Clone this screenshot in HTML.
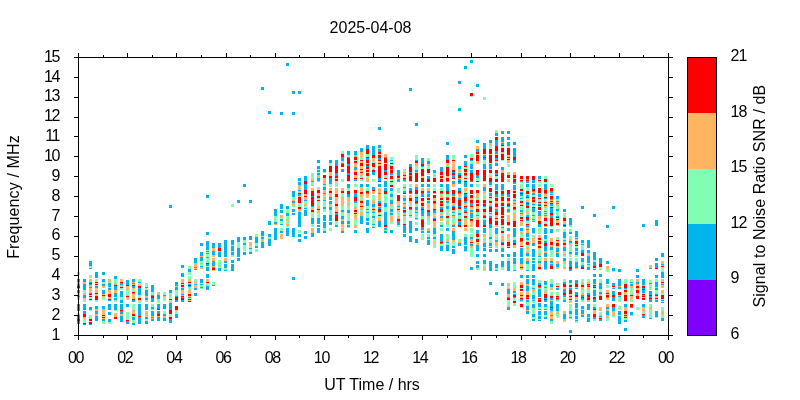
<!DOCTYPE html>
<html><head><meta charset="utf-8"><title>2025-04-08</title>
<style>html,body{margin:0;padding:0;background:#fff}svg{display:block}text{font-family:"Liberation Sans",sans-serif;font-size:16px;fill:#000}.t{letter-spacing:-1.3px}.r{letter-spacing:0.12px}.r2{letter-spacing:0.07px}.c{letter-spacing:-0.7px}</style></head><body>
<svg width="800" height="400" viewBox="0 0 800 400">
<rect width="800" height="400" fill="#fff"/>
<g shape-rendering="crispEdges">
<path fill="#00b4ec" d="M77 279h3v3h-3zM77 284h3v2h-3zM77 290h3v3h-3zM77 296h3v1h-3zM77 304h3v7h-3zM77 315h3v4h-3zM77 321h3v3h-3zM83 279h3v3h-3zM83 284h3v6h-3zM83 295h3v3h-3zM83 304h3v6h-3zM83 311h3v3h-3zM83 324h3v1h-3zM89 261h3v5h-3zM89 268h3v1h-3zM89 282h3v1h-3zM89 284h3v1h-3zM89 287h3v1h-3zM89 293h3v1h-3zM89 307h3v3h-3zM89 324h3v1h-3zM95 272h3v6h-3zM95 286h3v2h-3zM95 306h3v3h-3zM95 311h3v3h-3zM95 316h3v5h-3zM102 272h3v3h-3zM102 279h3v3h-3zM102 284h3v2h-3zM102 290h3v4h-3zM102 306h3v3h-3zM102 319h3v2h-3zM108 283h3v4h-3zM108 288h3v2h-3zM108 300h3v1h-3zM108 304h3v6h-3zM108 312h3v3h-3zM108 319h3v3h-3zM114 276h3v3h-3zM114 286h3v4h-3zM114 293h3v4h-3zM114 298h3v2h-3zM114 304h3v6h-3zM120 283h3v2h-3zM120 291h3v6h-3zM120 300h3v3h-3zM120 304h3v6h-3zM120 311h3v3h-3zM120 316h3v6h-3zM126 280h3v5h-3zM126 304h3v3h-3zM126 321h3v3h-3zM132 279h3v3h-3zM132 283h3v1h-3zM132 286h3v2h-3zM132 293h3v1h-3zM132 300h3v2h-3zM132 317h3v3h-3zM132 323h3v2h-3zM138 282h3v1h-3zM138 288h3v7h-3zM138 304h3v12h-3zM138 317h3v7h-3zM145 287h3v1h-3zM145 290h3v6h-3zM145 298h3v2h-3zM145 304h3v6h-3zM145 317h3v2h-3zM145 321h3v3h-3zM151 285h3v7h-3zM151 295h3v1h-3zM151 298h3v4h-3zM151 307h3v2h-3zM151 311h3v5h-3zM151 317h3v1h-3zM151 319h3v2h-3zM157 295h3v4h-3zM157 304h3v5h-3zM157 311h3v3h-3zM157 317h3v4h-3zM163 295h3v1h-3zM163 304h3v5h-3zM163 314h3v2h-3zM163 318h3v3h-3zM169 205h3v3h-3zM169 290h3v3h-3zM169 303h3v7h-3zM169 319h3v4h-3zM175 282h3v4h-3zM175 287h3v3h-3zM175 296h3v1h-3zM175 300h3v2h-3zM175 314h3v4h-3zM181 265h3v3h-3zM181 273h3v4h-3zM181 288h3v2h-3zM181 294h3v1h-3zM181 297h3v1h-3zM181 300h3v2h-3zM188 269h3v3h-3zM188 284h3v1h-3zM188 286h3v1h-3zM188 297h3v1h-3zM194 258h3v5h-3zM194 267h3v1h-3zM194 269h3v1h-3zM194 284h3v1h-3zM194 288h3v2h-3zM194 293h3v3h-3zM200 243h3v3h-3zM200 252h3v4h-3zM200 257h3v4h-3zM200 266h3v1h-3zM200 279h3v4h-3zM200 284h3v1h-3zM200 287h3v1h-3zM206 195h3v3h-3zM206 232h3v3h-3zM206 241h3v9h-3zM206 251h3v1h-3zM206 253h3v1h-3zM206 257h3v1h-3zM206 264h3v2h-3zM206 267h3v4h-3zM206 274h3v4h-3zM206 286h3v4h-3zM212 243h3v5h-3zM212 251h3v4h-3zM212 261h3v5h-3zM212 267h3v1h-3zM212 285h3v1h-3zM218 243h3v5h-3zM218 252h3v5h-3zM218 268h3v3h-3zM224 240h3v17h-3zM224 261h3v2h-3zM224 264h3v4h-3zM224 270h3v1h-3zM231 240h3v5h-3zM231 246h3v5h-3zM231 252h3v3h-3zM231 260h3v3h-3zM231 264h3v7h-3zM237 200h3v3h-3zM237 237h3v5h-3zM237 248h3v9h-3zM237 258h3v3h-3zM243 184h3v3h-3zM243 237h3v3h-3zM243 243h3v2h-3zM243 252h3v3h-3zM249 200h3v3h-3zM249 236h3v4h-3zM249 248h3v1h-3zM249 252h3v2h-3zM255 237h3v6h-3zM255 246h3v2h-3zM261 87h3v3h-3zM261 231h3v5h-3zM261 237h3v2h-3zM261 242h3v6h-3zM268 111h3v3h-3zM268 221h3v4h-3zM268 234h3v3h-3zM268 239h3v7h-3zM274 209h3v7h-3zM274 222h3v2h-3zM274 228h3v12h-3zM280 112h3v3h-3zM280 204h3v5h-3zM280 210h3v3h-3zM280 219h3v2h-3zM280 224h3v1h-3zM280 231h3v2h-3zM286 63h3v3h-3zM286 206h3v3h-3zM286 213h3v3h-3zM286 228h3v8h-3zM292 91h3v3h-3zM292 112h3v3h-3zM292 191h3v6h-3zM292 201h3v2h-3zM292 209h3v3h-3zM292 213h3v2h-3zM292 228h3v9h-3zM292 277h3v3h-3zM298 91h3v3h-3zM298 178h3v3h-3zM298 182h3v3h-3zM298 190h3v1h-3zM298 194h3v2h-3zM298 212h3v15h-3zM298 234h3v3h-3zM298 239h3v3h-3zM304 176h3v5h-3zM304 184h3v6h-3zM304 200h3v1h-3zM304 208h3v1h-3zM304 210h3v6h-3zM304 231h3v3h-3zM304 236h3v3h-3zM311 181h3v1h-3zM311 196h3v1h-3zM311 206h3v1h-3zM311 218h3v6h-3zM311 233h3v4h-3zM317 160h3v3h-3zM317 166h3v3h-3zM317 170h3v2h-3zM317 173h3v2h-3zM317 178h3v3h-3zM317 218h3v6h-3zM317 225h3v2h-3zM317 228h3v5h-3zM323 169h3v3h-3zM323 184h3v1h-3zM323 187h3v3h-3zM323 193h3v1h-3zM323 200h3v1h-3zM323 207h3v2h-3zM323 215h3v6h-3zM323 222h3v6h-3zM323 231h3v2h-3zM329 160h3v3h-3zM329 178h3v6h-3zM329 197h3v3h-3zM329 201h3v3h-3zM329 207h3v3h-3zM329 215h3v6h-3zM329 222h3v3h-3zM335 160h3v6h-3zM335 173h3v3h-3zM335 213h3v2h-3zM335 225h3v2h-3zM341 157h3v4h-3zM341 163h3v1h-3zM341 169h3v3h-3zM341 210h3v2h-3zM341 216h3v3h-3zM341 221h3v3h-3zM341 231h3v2h-3zM347 151h3v4h-3zM347 157h3v1h-3zM347 164h3v2h-3zM347 173h3v2h-3zM347 184h3v4h-3zM347 194h3v3h-3zM347 210h3v3h-3zM347 221h3v3h-3zM347 225h3v2h-3zM354 151h3v4h-3zM354 167h3v3h-3zM354 179h3v2h-3zM354 193h3v4h-3zM354 201h3v2h-3zM354 230h3v3h-3zM360 148h3v4h-3zM360 184h3v3h-3zM360 216h3v8h-3zM366 145h3v4h-3zM366 158h3v2h-3zM366 166h3v1h-3zM366 184h3v3h-3zM366 193h3v1h-3zM366 200h3v6h-3zM366 209h3v1h-3zM366 212h3v1h-3zM366 218h3v3h-3zM366 222h3v3h-3zM366 228h3v5h-3zM372 146h3v9h-3zM372 172h3v3h-3zM372 187h3v3h-3zM372 204h3v3h-3zM372 212h3v1h-3zM372 216h3v2h-3zM372 224h3v1h-3zM372 227h3v1h-3zM378 127h3v3h-3zM378 145h3v3h-3zM378 149h3v3h-3zM378 158h3v2h-3zM378 178h3v3h-3zM378 184h3v3h-3zM378 193h3v1h-3zM378 201h3v2h-3zM378 207h3v2h-3zM378 221h3v6h-3zM384 157h3v1h-3zM384 170h3v2h-3zM384 181h3v6h-3zM384 188h3v3h-3zM384 203h3v4h-3zM384 212h3v13h-3zM384 228h3v2h-3zM384 231h3v2h-3zM390 160h3v1h-3zM390 169h3v1h-3zM390 173h3v2h-3zM390 188h3v3h-3zM390 194h3v3h-3zM390 200h3v4h-3zM390 209h3v3h-3zM390 213h3v2h-3zM390 230h3v3h-3zM397 170h3v6h-3zM397 179h3v3h-3zM397 206h3v1h-3zM397 221h3v4h-3zM403 179h3v2h-3zM403 187h3v1h-3zM403 191h3v2h-3zM403 198h3v3h-3zM403 203h3v1h-3zM403 207h3v2h-3zM403 212h3v1h-3zM403 215h3v1h-3zM403 225h3v8h-3zM403 234h3v3h-3zM409 88h3v3h-3zM409 164h3v3h-3zM409 172h3v1h-3zM409 175h3v1h-3zM409 188h3v3h-3zM409 193h3v1h-3zM409 209h3v1h-3zM409 215h3v1h-3zM409 221h3v12h-3zM409 236h3v6h-3zM415 123h3v3h-3zM415 160h3v1h-3zM415 170h3v2h-3zM415 187h3v3h-3zM415 198h3v3h-3zM415 203h3v1h-3zM415 207h3v3h-3zM415 212h3v1h-3zM415 218h3v1h-3zM415 228h3v3h-3zM415 239h3v4h-3zM421 158h3v6h-3zM421 166h3v1h-3zM421 184h3v3h-3zM421 193h3v4h-3zM421 207h3v2h-3zM421 210h3v6h-3zM421 219h3v1h-3zM421 227h3v3h-3zM421 231h3v2h-3zM427 161h3v3h-3zM427 176h3v3h-3zM427 184h3v3h-3zM427 191h3v2h-3zM427 194h3v3h-3zM427 201h3v2h-3zM427 212h3v4h-3zM427 231h3v2h-3zM427 237h3v2h-3zM427 240h3v5h-3zM433 170h3v3h-3zM433 203h3v1h-3zM433 210h3v3h-3zM433 218h3v1h-3zM433 228h3v6h-3zM433 237h3v2h-3zM440 167h3v5h-3zM440 184h3v3h-3zM440 193h3v1h-3zM440 203h3v1h-3zM440 207h3v2h-3zM440 216h3v2h-3zM440 225h3v2h-3zM440 234h3v8h-3zM440 243h3v1h-3zM440 246h3v5h-3zM446 142h3v3h-3zM446 155h3v5h-3zM446 181h3v1h-3zM446 184h3v7h-3zM446 197h3v1h-3zM446 201h3v2h-3zM446 206h3v3h-3zM446 228h3v3h-3zM446 242h3v1h-3zM446 245h3v6h-3zM452 172h3v1h-3zM452 175h3v3h-3zM452 181h3v3h-3zM452 194h3v2h-3zM452 206h3v1h-3zM452 212h3v1h-3zM452 215h3v1h-3zM452 225h3v2h-3zM452 231h3v9h-3zM452 246h3v2h-3zM452 249h3v5h-3zM458 81h3v3h-3zM458 108h3v3h-3zM458 166h3v3h-3zM458 173h3v2h-3zM458 179h3v2h-3zM458 182h3v2h-3zM458 188h3v3h-3zM458 193h3v1h-3zM458 198h3v2h-3zM458 206h3v1h-3zM458 213h3v2h-3zM458 221h3v4h-3zM458 243h3v3h-3zM464 66h3v3h-3zM464 155h3v3h-3zM464 161h3v5h-3zM464 175h3v1h-3zM464 182h3v5h-3zM464 194h3v3h-3zM464 201h3v2h-3zM464 207h3v2h-3zM464 210h3v2h-3zM464 237h3v8h-3zM464 246h3v5h-3zM470 60h3v3h-3zM470 160h3v1h-3zM470 164h3v5h-3zM470 170h3v3h-3zM470 181h3v1h-3zM470 184h3v3h-3zM470 203h3v3h-3zM470 210h3v2h-3zM470 213h3v5h-3zM470 237h3v2h-3zM470 244h3v2h-3zM470 267h3v3h-3zM476 84h3v3h-3zM476 140h3v3h-3zM476 149h3v3h-3zM476 175h3v3h-3zM476 215h3v1h-3zM476 230h3v4h-3zM476 245h3v6h-3zM476 254h3v3h-3zM476 261h3v3h-3zM476 265h3v3h-3zM483 143h3v6h-3zM483 155h3v2h-3zM483 158h3v2h-3zM483 164h3v5h-3zM483 187h3v4h-3zM483 203h3v1h-3zM483 206h3v1h-3zM483 215h3v1h-3zM483 220h3v5h-3zM483 228h3v5h-3zM483 243h3v4h-3zM483 248h3v3h-3zM483 254h3v3h-3zM483 260h3v4h-3zM489 140h3v3h-3zM489 164h3v5h-3zM489 182h3v3h-3zM489 193h3v3h-3zM489 206h3v1h-3zM489 213h3v1h-3zM489 216h3v2h-3zM489 224h3v4h-3zM489 237h3v2h-3zM489 243h3v3h-3zM489 247h3v1h-3zM489 249h3v3h-3zM489 261h3v10h-3zM489 282h3v3h-3zM495 133h3v3h-3zM495 140h3v6h-3zM495 151h3v3h-3zM495 158h3v2h-3zM495 163h3v3h-3zM495 173h3v2h-3zM495 184h3v6h-3zM495 194h3v3h-3zM495 203h3v1h-3zM495 209h3v3h-3zM495 228h3v6h-3zM495 240h3v2h-3zM495 249h3v3h-3zM495 264h3v4h-3zM495 270h3v1h-3zM495 292h3v3h-3zM501 131h3v3h-3zM501 137h3v5h-3zM501 143h3v2h-3zM501 167h3v3h-3zM501 184h3v6h-3zM501 194h3v2h-3zM501 227h3v1h-3zM501 242h3v1h-3zM501 248h3v4h-3zM501 254h3v3h-3zM501 261h3v6h-3zM501 283h3v3h-3zM507 131h3v3h-3zM507 137h3v3h-3zM507 142h3v4h-3zM507 194h3v3h-3zM507 203h3v1h-3zM507 206h3v1h-3zM507 209h3v3h-3zM507 228h3v3h-3zM507 254h3v3h-3zM507 261h3v10h-3zM507 289h3v5h-3zM507 297h3v1h-3zM507 307h3v3h-3zM513 142h3v3h-3zM513 148h3v9h-3zM513 160h3v3h-3zM513 182h3v2h-3zM513 185h3v5h-3zM513 200h3v1h-3zM513 203h3v1h-3zM513 209h3v1h-3zM513 228h3v9h-3zM513 240h3v3h-3zM513 252h3v5h-3zM513 258h3v6h-3zM513 270h3v1h-3zM513 291h3v2h-3zM513 294h3v1h-3zM513 297h3v1h-3zM520 181h3v1h-3zM520 192h3v1h-3zM520 194h3v2h-3zM520 198h3v1h-3zM520 210h3v2h-3zM520 213h3v1h-3zM520 228h3v3h-3zM520 241h3v1h-3zM520 248h3v9h-3zM520 258h3v6h-3zM520 275h3v3h-3zM520 299h3v2h-3zM526 179h3v1h-3zM526 181h3v2h-3zM526 184h3v3h-3zM526 195h3v2h-3zM526 202h3v1h-3zM526 204h3v2h-3zM526 215h3v2h-3zM526 220h3v1h-3zM526 225h3v2h-3zM526 229h3v1h-3zM526 233h3v4h-3zM526 238h3v2h-3zM526 253h3v3h-3zM526 261h3v3h-3zM526 270h3v1h-3zM526 275h3v3h-3zM526 279h3v5h-3zM526 286h3v5h-3zM526 297h3v1h-3zM526 300h3v2h-3zM526 306h3v4h-3zM526 311h3v3h-3zM532 180h3v3h-3zM532 184h3v5h-3zM532 191h3v1h-3zM532 193h3v2h-3zM532 199h3v1h-3zM532 204h3v1h-3zM532 208h3v4h-3zM532 215h3v1h-3zM532 219h3v1h-3zM532 221h3v1h-3zM532 228h3v5h-3zM532 243h3v3h-3zM532 249h3v8h-3zM532 258h3v2h-3zM532 261h3v2h-3zM532 264h3v7h-3zM532 275h3v3h-3zM532 279h3v6h-3zM532 288h3v1h-3zM532 295h3v4h-3zM532 300h3v1h-3zM532 304h3v4h-3zM532 314h3v3h-3zM532 319h3v2h-3zM538 176h3v3h-3zM538 194h3v3h-3zM538 204h3v1h-3zM538 211h3v5h-3zM538 224h3v3h-3zM538 256h3v1h-3zM538 261h3v2h-3zM538 283h3v2h-3zM538 287h3v1h-3zM538 289h3v8h-3zM538 299h3v1h-3zM538 303h3v4h-3zM538 309h3v1h-3zM538 311h3v4h-3zM538 316h3v3h-3zM538 320h3v1h-3zM544 184h3v6h-3zM544 193h3v1h-3zM544 198h3v1h-3zM544 211h3v1h-3zM544 213h3v1h-3zM544 215h3v1h-3zM544 228h3v6h-3zM544 235h3v4h-3zM544 241h3v2h-3zM544 246h3v5h-3zM544 253h3v4h-3zM544 261h3v8h-3zM544 281h3v4h-3zM544 287h3v1h-3zM544 298h3v1h-3zM544 300h3v2h-3zM544 304h3v3h-3zM544 309h3v1h-3zM544 311h3v4h-3zM544 317h3v2h-3zM550 191h3v2h-3zM550 194h3v1h-3zM550 199h3v1h-3zM550 204h3v2h-3zM550 208h3v5h-3zM550 215h3v3h-3zM550 229h3v4h-3zM550 247h3v3h-3zM550 261h3v2h-3zM550 264h3v2h-3zM550 284h3v3h-3zM550 298h3v2h-3zM550 301h3v6h-3zM550 308h3v3h-3zM550 315h3v1h-3zM550 319h3v2h-3zM556 196h3v3h-3zM556 201h3v1h-3zM556 203h3v1h-3zM556 209h3v2h-3zM556 216h3v1h-3zM556 248h3v4h-3zM556 253h3v4h-3zM556 264h3v3h-3zM556 288h3v2h-3zM556 297h3v1h-3zM556 299h3v1h-3zM556 304h3v7h-3zM563 209h3v3h-3zM563 224h3v1h-3zM563 226h3v1h-3zM563 232h3v6h-3zM563 240h3v1h-3zM563 247h3v4h-3zM563 258h3v3h-3zM563 282h3v2h-3zM563 289h3v4h-3zM563 295h3v2h-3zM563 300h3v2h-3zM563 314h3v5h-3zM569 218h3v7h-3zM569 232h3v2h-3zM569 241h3v2h-3zM569 252h3v2h-3zM569 261h3v6h-3zM569 269h3v2h-3zM569 280h3v3h-3zM569 288h3v2h-3zM569 311h3v3h-3zM569 317h3v1h-3zM569 330h3v3h-3zM575 231h3v6h-3zM575 238h3v1h-3zM575 248h3v3h-3zM575 252h3v3h-3zM575 262h3v6h-3zM575 280h3v4h-3zM575 288h3v1h-3zM575 292h3v3h-3zM575 300h3v2h-3zM575 303h3v5h-3zM575 309h3v6h-3zM575 316h3v3h-3zM575 320h3v1h-3zM581 206h3v3h-3zM581 240h3v3h-3zM581 244h3v1h-3zM581 250h3v3h-3zM581 258h3v4h-3zM581 265h3v2h-3zM581 295h3v2h-3zM581 298h3v2h-3zM581 306h3v3h-3zM581 310h3v4h-3zM581 315h3v2h-3zM587 240h3v8h-3zM587 250h3v3h-3zM587 256h3v7h-3zM587 264h3v1h-3zM587 267h3v3h-3zM587 285h3v1h-3zM587 293h3v2h-3zM587 297h3v1h-3zM587 304h3v6h-3zM587 314h3v3h-3zM587 318h3v4h-3zM593 214h3v3h-3zM593 252h3v8h-3zM593 262h3v4h-3zM593 269h3v1h-3zM593 274h3v3h-3zM593 279h3v5h-3zM593 286h3v1h-3zM593 290h3v6h-3zM593 299h3v3h-3zM593 307h3v2h-3zM593 317h3v2h-3zM599 258h3v6h-3zM599 274h3v3h-3zM599 283h3v6h-3zM599 292h3v2h-3zM599 316h3v1h-3zM599 319h3v2h-3zM606 225h3v3h-3zM606 261h3v3h-3zM606 279h3v5h-3zM606 297h3v1h-3zM606 307h3v2h-3zM606 311h3v4h-3zM612 206h3v3h-3zM612 268h3v3h-3zM612 283h3v3h-3zM612 288h3v1h-3zM612 291h3v4h-3zM612 297h3v4h-3zM612 307h3v4h-3zM618 269h3v3h-3zM618 279h3v7h-3zM618 287h3v2h-3zM618 296h3v1h-3zM618 311h3v4h-3zM618 316h3v8h-3zM624 288h3v1h-3zM624 304h3v3h-3zM624 320h3v2h-3zM624 328h3v3h-3zM630 282h3v1h-3zM630 284h3v2h-3zM630 307h3v1h-3zM630 312h3v3h-3zM636 269h3v3h-3zM636 275h3v3h-3zM636 282h3v2h-3zM642 224h3v3h-3zM642 279h3v6h-3zM642 288h3v1h-3zM642 290h3v3h-3zM642 295h3v1h-3zM642 304h3v3h-3zM642 315h3v3h-3zM649 268h3v1h-3zM649 283h3v1h-3zM649 291h3v4h-3zM649 296h3v2h-3zM649 299h3v3h-3zM649 318h3v1h-3zM655 220h3v6h-3zM655 258h3v3h-3zM655 263h3v5h-3zM655 275h3v3h-3zM655 282h3v5h-3zM655 288h3v2h-3zM655 294h3v1h-3zM655 300h3v2h-3zM655 311h3v6h-3zM661 253h3v4h-3zM661 264h3v1h-3zM661 272h3v6h-3zM661 284h3v1h-3zM661 300h3v1h-3zM661 302h3v1h-3zM661 318h3v3h-3z"/>
<path fill="#80ffb4" d="M77 272h3v3h-3zM77 293h3v2h-3zM77 297h3v3h-3zM77 313h3v2h-3zM83 290h3v3h-3zM83 299h3v3h-3zM83 319h3v4h-3zM89 266h3v2h-3zM89 275h3v3h-3zM89 297h3v2h-3zM89 300h3v1h-3zM89 310h3v1h-3zM89 315h3v4h-3zM89 321h3v1h-3zM95 279h3v3h-3zM95 289h3v1h-3zM95 300h3v2h-3zM102 282h3v2h-3zM102 297h3v3h-3zM102 321h3v3h-3zM108 282h3v1h-3zM108 287h3v1h-3zM108 293h3v1h-3zM108 322h3v2h-3zM114 279h3v4h-3zM114 297h3v1h-3zM114 300h3v2h-3zM114 310h3v1h-3zM120 288h3v2h-3zM120 297h3v3h-3zM126 290h3v5h-3zM126 299h3v1h-3zM126 312h3v8h-3zM132 289h3v3h-3zM132 304h3v6h-3zM132 316h3v1h-3zM132 320h3v3h-3zM138 279h3v3h-3zM138 283h3v1h-3zM138 295h3v3h-3zM138 301h3v2h-3zM145 283h3v4h-3zM145 288h3v2h-3zM145 300h3v2h-3zM145 319h3v2h-3zM151 292h3v3h-3zM151 304h3v3h-3zM157 299h3v4h-3zM163 292h3v3h-3zM163 297h3v4h-3zM163 311h3v3h-3zM169 293h3v2h-3zM169 296h3v3h-3zM169 300h3v2h-3zM169 314h3v3h-3zM175 286h3v1h-3zM175 290h3v5h-3zM175 311h3v3h-3zM181 284h3v1h-3zM181 287h3v1h-3zM188 266h3v3h-3zM188 272h3v3h-3zM188 276h3v3h-3zM188 288h3v2h-3zM188 293h3v1h-3zM188 298h3v1h-3zM194 279h3v3h-3zM194 283h3v1h-3zM194 285h3v1h-3zM200 261h3v2h-3zM200 264h3v2h-3zM200 283h3v1h-3zM200 285h3v2h-3zM200 288h3v1h-3zM206 250h3v1h-3zM206 252h3v1h-3zM206 254h3v3h-3zM206 258h3v3h-3zM206 262h3v1h-3zM206 266h3v1h-3zM206 283h3v2h-3zM212 282h3v3h-3zM218 260h3v3h-3zM218 264h3v1h-3zM218 266h3v2h-3zM224 268h3v2h-3zM231 204h3v3h-3zM231 245h3v1h-3zM231 251h3v1h-3zM231 255h3v2h-3zM237 242h3v6h-3zM243 240h3v3h-3zM243 245h3v6h-3zM249 246h3v2h-3zM249 249h3v3h-3zM255 234h3v3h-3zM255 243h3v3h-3zM255 249h3v3h-3zM261 236h3v1h-3zM268 237h3v2h-3zM274 216h3v6h-3zM280 218h3v1h-3zM280 221h3v3h-3zM280 228h3v3h-3zM286 209h3v4h-3zM286 216h3v3h-3zM286 221h3v3h-3zM286 226h3v1h-3zM292 197h3v3h-3zM292 206h3v1h-3zM298 181h3v1h-3zM298 203h3v4h-3zM298 230h3v3h-3zM304 201h3v3h-3zM304 206h3v2h-3zM304 209h3v1h-3zM311 173h3v6h-3zM311 182h3v3h-3zM311 212h3v6h-3zM311 224h3v3h-3zM317 169h3v1h-3zM317 172h3v1h-3zM317 187h3v3h-3zM317 198h3v2h-3zM317 201h3v5h-3zM317 213h3v5h-3zM323 172h3v1h-3zM323 185h3v2h-3zM323 196h3v1h-3zM323 201h3v6h-3zM323 209h3v3h-3zM323 228h3v3h-3zM329 163h3v3h-3zM329 184h3v3h-3zM329 206h3v1h-3zM329 210h3v5h-3zM329 228h3v3h-3zM335 181h3v6h-3zM335 193h3v1h-3zM335 197h3v1h-3zM335 201h3v1h-3zM335 209h3v1h-3zM335 221h3v4h-3zM341 151h3v3h-3zM341 161h3v2h-3zM341 179h3v3h-3zM341 193h3v4h-3zM341 206h3v4h-3zM341 212h3v4h-3zM341 227h3v1h-3zM347 155h3v2h-3zM347 181h3v1h-3zM347 188h3v3h-3zM347 202h3v1h-3zM347 206h3v4h-3zM347 213h3v8h-3zM347 224h3v1h-3zM354 160h3v1h-3zM354 184h3v3h-3zM354 203h3v4h-3zM354 219h3v6h-3zM354 227h3v1h-3zM360 155h3v1h-3zM360 157h3v3h-3zM360 176h3v2h-3zM360 179h3v2h-3zM360 197h3v3h-3zM360 210h3v2h-3zM366 154h3v3h-3zM366 176h3v2h-3zM366 188h3v3h-3zM366 197h3v1h-3zM366 206h3v3h-3zM366 210h3v2h-3zM366 213h3v5h-3zM372 161h3v2h-3zM372 167h3v2h-3zM372 179h3v3h-3zM372 195h3v5h-3zM372 213h3v3h-3zM372 218h3v6h-3zM372 225h3v2h-3zM378 148h3v1h-3zM378 200h3v1h-3zM378 213h3v2h-3zM378 216h3v2h-3zM384 163h3v1h-3zM384 175h3v3h-3zM384 194h3v3h-3zM384 198h3v5h-3zM384 207h3v5h-3zM384 227h3v1h-3zM384 230h3v1h-3zM390 157h3v3h-3zM390 161h3v2h-3zM390 164h3v2h-3zM390 179h3v2h-3zM390 182h3v3h-3zM390 191h3v2h-3zM390 197h3v3h-3zM390 206h3v3h-3zM390 212h3v1h-3zM390 215h3v1h-3zM390 221h3v3h-3zM397 188h3v5h-3zM397 203h3v1h-3zM397 212h3v4h-3zM397 225h3v2h-3zM403 169h3v3h-3zM403 184h3v3h-3zM403 188h3v3h-3zM403 201h3v2h-3zM403 209h3v1h-3zM403 216h3v2h-3zM403 219h3v5h-3zM409 184h3v3h-3zM409 203h3v4h-3zM409 210h3v5h-3zM409 216h3v2h-3zM415 155h3v5h-3zM415 166h3v4h-3zM415 194h3v3h-3zM415 204h3v3h-3zM415 213h3v2h-3zM415 216h3v2h-3zM415 219h3v1h-3zM415 222h3v3h-3zM421 167h3v2h-3zM421 216h3v3h-3zM421 230h3v1h-3zM421 234h3v6h-3zM427 158h3v3h-3zM427 166h3v3h-3zM427 173h3v2h-3zM427 197h3v1h-3zM427 200h3v1h-3zM427 209h3v1h-3zM427 218h3v1h-3zM427 220h3v5h-3zM427 234h3v3h-3zM427 239h3v1h-3zM433 173h3v2h-3zM433 176h3v2h-3zM433 184h3v3h-3zM433 188h3v3h-3zM433 215h3v1h-3zM433 234h3v3h-3zM433 239h3v3h-3zM433 243h3v5h-3zM440 188h3v3h-3zM440 194h3v1h-3zM440 197h3v1h-3zM440 200h3v1h-3zM440 212h3v1h-3zM440 215h3v1h-3zM440 222h3v3h-3zM440 228h3v3h-3zM440 244h3v2h-3zM446 163h3v1h-3zM446 166h3v1h-3zM446 194h3v3h-3zM446 204h3v2h-3zM446 209h3v7h-3zM446 218h3v3h-3zM446 224h3v3h-3zM446 234h3v5h-3zM446 243h3v2h-3zM452 155h3v5h-3zM452 163h3v1h-3zM452 203h3v1h-3zM452 213h3v2h-3zM452 218h3v6h-3zM452 242h3v4h-3zM458 172h3v1h-3zM458 197h3v1h-3zM458 210h3v3h-3zM458 215h3v4h-3zM458 239h3v3h-3zM464 167h3v2h-3zM464 176h3v2h-3zM464 179h3v2h-3zM464 191h3v2h-3zM464 213h3v3h-3zM464 218h3v1h-3zM464 234h3v3h-3zM464 251h3v1h-3zM470 96h3v1h-3zM470 154h3v4h-3zM470 161h3v3h-3zM470 209h3v1h-3zM470 218h3v1h-3zM470 228h3v5h-3zM470 234h3v3h-3zM470 248h3v9h-3zM476 163h3v1h-3zM476 178h3v3h-3zM476 184h3v3h-3zM476 198h3v2h-3zM476 203h3v1h-3zM476 212h3v3h-3zM476 216h3v2h-3zM476 237h3v2h-3zM476 268h3v2h-3zM483 97h3v3h-3zM483 160h3v4h-3zM483 181h3v1h-3zM483 193h3v4h-3zM483 198h3v2h-3zM483 207h3v2h-3zM483 218h3v2h-3zM483 237h3v2h-3zM483 240h3v2h-3zM483 247h3v1h-3zM483 264h3v3h-3zM483 270h3v1h-3zM489 146h3v3h-3zM489 163h3v1h-3zM489 169h3v1h-3zM489 173h3v3h-3zM489 185h3v2h-3zM489 192h3v1h-3zM489 198h3v3h-3zM489 203h3v1h-3zM489 212h3v1h-3zM489 214h3v2h-3zM489 228h3v9h-3zM489 239h3v4h-3zM489 246h3v1h-3zM495 130h3v3h-3zM495 161h3v2h-3zM495 176h3v3h-3zM495 190h3v1h-3zM495 234h3v6h-3zM495 246h3v2h-3zM495 268h3v2h-3zM501 146h3v2h-3zM501 160h3v1h-3zM501 206h3v1h-3zM501 225h3v2h-3zM501 228h3v3h-3zM501 233h3v3h-3zM501 245h3v3h-3zM501 267h3v3h-3zM507 146h3v2h-3zM507 164h3v3h-3zM507 197h3v1h-3zM507 207h3v2h-3zM507 237h3v3h-3zM507 258h3v3h-3zM507 286h3v2h-3zM507 300h3v6h-3zM513 193h3v1h-3zM513 210h3v3h-3zM513 237h3v3h-3zM513 264h3v6h-3zM513 282h3v6h-3zM513 293h3v1h-3zM513 298h3v3h-3zM513 303h3v3h-3zM520 179h3v1h-3zM520 182h3v1h-3zM520 184h3v5h-3zM520 191h3v1h-3zM520 196h3v2h-3zM520 199h3v2h-3zM520 203h3v1h-3zM520 206h3v4h-3zM520 212h3v1h-3zM520 216h3v1h-3zM520 231h3v1h-3zM520 234h3v4h-3zM520 288h3v1h-3zM520 301h3v1h-3zM520 307h3v1h-3zM526 187h3v4h-3zM526 194h3v1h-3zM526 198h3v2h-3zM526 208h3v1h-3zM526 210h3v1h-3zM526 214h3v1h-3zM526 221h3v3h-3zM526 237h3v1h-3zM526 240h3v2h-3zM526 245h3v2h-3zM526 249h3v2h-3zM526 256h3v1h-3zM526 264h3v6h-3zM526 302h3v4h-3zM532 195h3v2h-3zM532 205h3v2h-3zM532 212h3v3h-3zM532 216h3v3h-3zM532 220h3v1h-3zM532 233h3v1h-3zM532 235h3v3h-3zM532 260h3v1h-3zM532 285h3v3h-3zM532 291h3v4h-3zM532 301h3v2h-3zM532 308h3v6h-3zM532 317h3v2h-3zM538 182h3v1h-3zM538 184h3v3h-3zM538 197h3v1h-3zM538 200h3v2h-3zM538 206h3v1h-3zM538 219h3v1h-3zM538 228h3v6h-3zM538 249h3v4h-3zM538 258h3v3h-3zM538 269h3v1h-3zM538 280h3v3h-3zM538 288h3v1h-3zM538 307h3v2h-3zM538 315h3v1h-3zM538 319h3v1h-3zM544 176h3v3h-3zM544 182h3v1h-3zM544 199h3v3h-3zM544 208h3v3h-3zM544 212h3v1h-3zM544 214h3v1h-3zM544 221h3v3h-3zM544 239h3v2h-3zM544 285h3v2h-3zM544 288h3v3h-3zM544 307h3v2h-3zM544 315h3v2h-3zM550 184h3v3h-3zM550 195h3v1h-3zM550 206h3v1h-3zM550 226h3v1h-3zM550 250h3v7h-3zM550 263h3v1h-3zM550 279h3v5h-3zM550 292h3v3h-3zM550 300h3v1h-3zM550 321h3v3h-3zM556 199h3v2h-3zM556 206h3v3h-3zM556 212h3v1h-3zM556 214h3v2h-3zM556 218h3v1h-3zM556 225h3v1h-3zM556 229h3v3h-3zM556 237h3v3h-3zM556 247h3v1h-3zM556 283h3v3h-3zM556 287h3v1h-3zM556 292h3v4h-3zM556 300h3v2h-3zM556 314h3v4h-3zM563 213h3v4h-3zM563 229h3v3h-3zM563 238h3v2h-3zM563 251h3v3h-3zM563 256h3v1h-3zM563 264h3v3h-3zM563 279h3v3h-3zM563 297h3v1h-3zM563 321h3v1h-3zM569 226h3v1h-3zM569 229h3v3h-3zM569 236h3v3h-3zM569 245h3v7h-3zM569 254h3v3h-3zM569 258h3v3h-3zM569 283h3v2h-3zM569 300h3v1h-3zM569 304h3v7h-3zM569 314h3v3h-3zM569 318h3v1h-3zM575 237h3v1h-3zM575 246h3v2h-3zM575 251h3v1h-3zM575 255h3v2h-3zM575 258h3v4h-3zM575 299h3v1h-3zM575 308h3v1h-3zM575 319h3v1h-3zM575 321h3v2h-3zM581 243h3v1h-3zM581 245h3v5h-3zM581 262h3v3h-3zM581 279h3v4h-3zM581 290h3v3h-3zM581 300h3v2h-3zM581 309h3v1h-3zM587 263h3v1h-3zM587 265h3v2h-3zM587 279h3v3h-3zM587 287h3v1h-3zM587 290h3v3h-3zM593 260h3v2h-3zM593 268h3v1h-3zM593 284h3v1h-3zM593 288h3v2h-3zM593 296h3v1h-3zM593 304h3v3h-3zM593 319h3v2h-3zM599 267h3v2h-3zM599 279h3v4h-3zM599 289h3v3h-3zM599 312h3v3h-3zM606 269h3v3h-3zM606 285h3v3h-3zM606 318h3v3h-3zM612 271h3v1h-3zM612 287h3v1h-3zM612 316h3v1h-3zM618 297h3v5h-3zM618 306h3v4h-3zM618 315h3v1h-3zM624 279h3v5h-3zM624 301h3v1h-3zM624 318h3v2h-3zM630 279h3v3h-3zM630 283h3v1h-3zM630 288h3v7h-3zM630 299h3v3h-3zM630 315h3v1h-3zM636 307h3v3h-3zM642 311h3v3h-3zM649 280h3v3h-3zM649 284h3v3h-3zM649 288h3v2h-3zM649 304h3v3h-3zM649 310h3v5h-3zM649 316h3v2h-3zM655 279h3v3h-3zM655 290h3v3h-3zM655 317h3v1h-3zM661 267h3v5h-3zM661 293h3v2h-3zM661 301h3v1h-3zM661 307h3v4h-3zM661 315h3v3h-3z"/>
<path fill="#ffb462" d="M77 282h3v2h-3zM77 288h3v1h-3zM77 295h3v1h-3zM83 282h3v2h-3zM83 293h3v2h-3zM83 298h3v1h-3zM83 317h3v2h-3zM89 279h3v3h-3zM89 285h3v2h-3zM89 288h3v5h-3zM89 295h3v1h-3zM95 283h3v1h-3zM95 285h3v1h-3zM95 288h3v1h-3zM95 290h3v3h-3zM95 294h3v2h-3zM95 309h3v2h-3zM95 314h3v2h-3zM102 286h3v2h-3zM102 294h3v1h-3zM102 296h3v1h-3zM102 309h3v6h-3zM102 316h3v1h-3zM102 318h3v1h-3zM108 279h3v3h-3zM108 290h3v3h-3zM108 297h3v2h-3zM114 283h3v2h-3zM114 290h3v3h-3zM114 313h3v4h-3zM120 279h3v3h-3zM120 285h3v2h-3zM120 314h3v2h-3zM126 286h3v4h-3zM126 295h3v1h-3zM126 297h3v2h-3zM132 282h3v1h-3zM132 284h3v1h-3zM132 288h3v1h-3zM132 294h3v5h-3zM132 310h3v4h-3zM138 284h3v2h-3zM138 300h3v1h-3zM145 296h3v2h-3zM145 311h3v6h-3zM151 309h3v1h-3zM151 316h3v1h-3zM151 318h3v1h-3zM157 292h3v3h-3zM157 316h3v1h-3zM163 296h3v1h-3zM163 316h3v2h-3zM169 295h3v1h-3zM169 302h3v1h-3zM175 295h3v1h-3zM175 310h3v1h-3zM181 279h3v4h-3zM181 290h3v4h-3zM181 295h3v1h-3zM188 279h3v3h-3zM188 283h3v1h-3zM188 287h3v1h-3zM188 290h3v3h-3zM188 296h3v1h-3zM188 300h3v1h-3zM194 263h3v4h-3zM194 268h3v1h-3zM194 282h3v1h-3zM194 286h3v2h-3zM200 256h3v1h-3zM200 263h3v1h-3zM200 267h3v2h-3zM206 261h3v1h-3zM206 279h3v3h-3zM206 285h3v1h-3zM212 248h3v3h-3zM212 255h3v2h-3zM212 258h3v3h-3zM212 266h3v1h-3zM212 270h3v1h-3zM218 251h3v1h-3zM218 263h3v1h-3zM218 265h3v1h-3zM224 258h3v3h-3zM249 242h3v4h-3zM261 239h3v3h-3zM274 224h3v1h-3zM280 215h3v3h-3zM280 234h3v5h-3zM286 219h3v2h-3zM286 224h3v2h-3zM292 200h3v1h-3zM292 203h3v3h-3zM298 185h3v5h-3zM298 191h3v2h-3zM298 196h3v1h-3zM298 209h3v3h-3zM304 194h3v2h-3zM304 197h3v3h-3zM304 204h3v2h-3zM311 179h3v2h-3zM311 185h3v1h-3zM311 188h3v3h-3zM311 207h3v3h-3zM311 228h3v5h-3zM317 175h3v3h-3zM317 181h3v1h-3zM317 193h3v3h-3zM317 206h3v3h-3zM317 210h3v3h-3zM323 178h3v6h-3zM323 190h3v3h-3zM323 194h3v2h-3zM323 197h3v3h-3zM329 172h3v4h-3zM329 188h3v3h-3zM329 193h3v4h-3zM329 204h3v2h-3zM335 178h3v1h-3zM335 188h3v5h-3zM335 198h3v3h-3zM335 202h3v2h-3zM335 206h3v3h-3zM335 210h3v2h-3zM341 188h3v3h-3zM341 197h3v9h-3zM341 219h3v2h-3zM341 224h3v3h-3zM341 228h3v3h-3zM347 197h3v5h-3zM347 203h3v3h-3zM347 227h3v1h-3zM354 155h3v2h-3zM354 163h3v4h-3zM354 170h3v2h-3zM354 175h3v3h-3zM354 207h3v3h-3zM354 212h3v1h-3zM354 214h3v5h-3zM354 225h3v2h-3zM360 152h3v3h-3zM360 156h3v1h-3zM360 161h3v2h-3zM360 166h3v3h-3zM360 170h3v2h-3zM360 173h3v3h-3zM360 187h3v5h-3zM360 194h3v3h-3zM360 200h3v1h-3zM360 203h3v3h-3zM360 207h3v3h-3zM360 212h3v4h-3zM366 163h3v1h-3zM366 169h3v1h-3zM366 172h3v1h-3zM366 178h3v4h-3zM366 194h3v3h-3zM372 158h3v3h-3zM372 169h3v1h-3zM372 191h3v3h-3zM372 200h3v4h-3zM372 207h3v2h-3zM372 210h3v2h-3zM378 154h3v1h-3zM378 161h3v2h-3zM378 164h3v2h-3zM378 188h3v5h-3zM378 194h3v6h-3zM378 206h3v1h-3zM378 212h3v1h-3zM378 218h3v3h-3zM384 154h3v3h-3zM384 197h3v1h-3zM390 175h3v1h-3zM390 193h3v1h-3zM390 204h3v2h-3zM390 216h3v5h-3zM397 178h3v1h-3zM397 201h3v2h-3zM397 204h3v2h-3zM397 207h3v2h-3zM397 210h3v2h-3zM397 216h3v3h-3zM403 172h3v3h-3zM403 176h3v2h-3zM403 181h3v1h-3zM403 195h3v3h-3zM403 204h3v3h-3zM403 213h3v2h-3zM403 218h3v1h-3zM409 181h3v1h-3zM409 195h3v3h-3zM409 201h3v2h-3zM415 163h3v3h-3zM415 172h3v1h-3zM415 184h3v3h-3zM415 210h3v2h-3zM415 215h3v1h-3zM421 176h3v2h-3zM421 188h3v3h-3zM421 201h3v2h-3zM421 206h3v1h-3zM427 164h3v2h-3zM427 188h3v3h-3zM427 193h3v1h-3zM427 203h3v6h-3zM427 216h3v2h-3zM427 219h3v1h-3zM427 228h3v3h-3zM433 175h3v1h-3zM433 193h3v1h-3zM433 198h3v3h-3zM433 204h3v5h-3zM433 213h3v2h-3zM433 216h3v2h-3zM433 221h3v7h-3zM433 242h3v1h-3zM440 175h3v1h-3zM440 178h3v1h-3zM440 195h3v2h-3zM440 206h3v1h-3zM440 213h3v2h-3zM440 218h3v3h-3zM446 164h3v2h-3zM446 176h3v2h-3zM446 200h3v1h-3zM446 203h3v1h-3zM446 221h3v3h-3zM446 239h3v3h-3zM452 161h3v2h-3zM452 164h3v6h-3zM452 184h3v3h-3zM452 196h3v1h-3zM452 204h3v2h-3zM452 210h3v2h-3zM452 216h3v2h-3zM452 224h3v1h-3zM452 228h3v3h-3zM452 240h3v2h-3zM458 169h3v3h-3zM458 178h3v1h-3zM458 194h3v3h-3zM458 209h3v1h-3zM458 242h3v1h-3zM464 172h3v1h-3zM464 188h3v3h-3zM464 203h3v3h-3zM464 209h3v1h-3zM464 219h3v6h-3zM464 228h3v3h-3zM470 198h3v2h-3zM470 207h3v2h-3zM470 212h3v1h-3zM470 221h3v6h-3zM470 239h3v3h-3zM470 243h3v1h-3zM470 246h3v2h-3zM476 146h3v3h-3zM476 154h3v1h-3zM476 161h3v2h-3zM476 193h3v5h-3zM476 206h3v3h-3zM476 218h3v2h-3zM476 242h3v3h-3zM483 154h3v1h-3zM483 169h3v1h-3zM483 184h3v3h-3zM483 191h3v2h-3zM483 197h3v1h-3zM483 212h3v3h-3zM483 234h3v3h-3zM483 239h3v1h-3zM483 242h3v1h-3zM483 267h3v3h-3zM489 143h3v3h-3zM489 154h3v1h-3zM489 176h3v2h-3zM489 196h3v1h-3zM489 204h3v2h-3zM495 154h3v1h-3zM495 197h3v1h-3zM495 201h3v2h-3zM495 207h3v2h-3zM495 215h3v3h-3zM495 219h3v2h-3zM495 225h3v2h-3zM495 242h3v4h-3zM501 142h3v1h-3zM501 152h3v2h-3zM501 170h3v3h-3zM501 190h3v1h-3zM501 196h3v1h-3zM501 201h3v2h-3zM501 215h3v1h-3zM501 218h3v1h-3zM501 236h3v6h-3zM507 155h3v2h-3zM507 158h3v1h-3zM507 160h3v3h-3zM507 172h3v3h-3zM507 179h3v3h-3zM507 201h3v2h-3zM507 212h3v1h-3zM507 215h3v7h-3zM507 225h3v1h-3zM507 234h3v3h-3zM507 240h3v2h-3zM507 246h3v1h-3zM507 283h3v3h-3zM507 288h3v1h-3zM507 294h3v3h-3zM507 306h3v1h-3zM513 172h3v3h-3zM513 178h3v1h-3zM513 190h3v1h-3zM513 198h3v2h-3zM513 201h3v2h-3zM513 204h3v3h-3zM513 213h3v8h-3zM513 245h3v3h-3zM513 288h3v3h-3zM520 204h3v1h-3zM520 214h3v2h-3zM520 219h3v1h-3zM520 221h3v5h-3zM520 232h3v2h-3zM520 242h3v4h-3zM520 264h3v3h-3zM520 268h3v2h-3zM520 282h3v3h-3zM520 292h3v3h-3zM520 296h3v2h-3zM526 200h3v2h-3zM526 209h3v1h-3zM526 211h3v3h-3zM526 227h3v2h-3zM526 230h3v3h-3zM526 247h3v2h-3zM526 251h3v2h-3zM526 258h3v3h-3zM526 284h3v2h-3zM526 291h3v4h-3zM526 299h3v1h-3zM526 310h3v1h-3zM532 192h3v1h-3zM532 202h3v2h-3zM532 238h3v5h-3zM532 289h3v2h-3zM532 299h3v1h-3zM538 179h3v1h-3zM538 181h3v1h-3zM538 193h3v1h-3zM538 199h3v1h-3zM538 203h3v1h-3zM538 216h3v3h-3zM538 220h3v1h-3zM538 235h3v3h-3zM538 240h3v1h-3zM538 244h3v2h-3zM538 248h3v1h-3zM538 253h3v3h-3zM538 263h3v4h-3zM544 194h3v3h-3zM544 203h3v2h-3zM544 206h3v2h-3zM544 216h3v2h-3zM544 226h3v1h-3zM544 251h3v2h-3zM544 258h3v3h-3zM544 269h3v1h-3zM544 291h3v3h-3zM550 193h3v1h-3zM550 200h3v1h-3zM550 202h3v1h-3zM550 238h3v4h-3zM550 245h3v2h-3zM550 258h3v3h-3zM550 287h3v3h-3zM550 295h3v1h-3zM550 311h3v4h-3zM550 316h3v3h-3zM556 202h3v1h-3zM556 204h3v2h-3zM556 211h3v1h-3zM556 213h3v1h-3zM556 220h3v3h-3zM556 241h3v2h-3zM556 246h3v1h-3zM556 252h3v1h-3zM556 261h3v3h-3zM556 267h3v2h-3zM556 311h3v3h-3zM563 217h3v1h-3zM563 221h3v3h-3zM563 241h3v2h-3zM563 245h3v2h-3zM563 254h3v2h-3zM563 261h3v3h-3zM563 267h3v2h-3zM563 287h3v2h-3zM563 298h3v2h-3zM563 311h3v3h-3zM563 319h3v2h-3zM569 225h3v1h-3zM569 239h3v2h-3zM569 243h3v2h-3zM569 287h3v1h-3zM569 294h3v2h-3zM569 297h3v2h-3zM569 301h3v2h-3zM575 239h3v2h-3zM575 244h3v1h-3zM575 268h3v1h-3zM575 287h3v1h-3zM575 297h3v2h-3zM575 315h3v1h-3zM581 283h3v2h-3zM581 287h3v3h-3zM581 293h3v2h-3zM581 314h3v1h-3zM587 253h3v3h-3zM587 282h3v2h-3zM587 288h3v2h-3zM587 300h3v2h-3zM587 317h3v1h-3zM593 310h3v4h-3zM599 269h3v1h-3zM599 294h3v2h-3zM599 307h3v4h-3zM599 315h3v1h-3zM599 317h3v1h-3zM606 266h3v3h-3zM606 290h3v3h-3zM606 294h3v1h-3zM606 298h3v2h-3zM606 304h3v3h-3zM606 309h3v2h-3zM606 315h3v3h-3zM612 311h3v5h-3zM618 286h3v1h-3zM618 295h3v1h-3zM624 289h3v1h-3zM624 292h3v3h-3zM624 307h3v4h-3zM624 314h3v1h-3zM624 316h3v1h-3zM630 286h3v2h-3zM630 296h3v3h-3zM636 279h3v3h-3zM636 284h3v2h-3zM636 288h3v2h-3zM636 293h3v3h-3zM642 285h3v1h-3zM642 293h3v1h-3zM642 297h3v1h-3zM642 307h3v4h-3zM649 265h3v3h-3zM649 287h3v1h-3zM649 307h3v3h-3zM649 315h3v1h-3zM655 287h3v1h-3zM655 293h3v1h-3zM655 296h3v2h-3zM655 299h3v1h-3zM661 261h3v3h-3zM661 265h3v1h-3zM661 279h3v3h-3zM661 283h3v1h-3zM661 285h3v3h-3zM661 290h3v3h-3zM661 299h3v1h-3zM661 311h3v4h-3z"/>
<path fill="#ff0000" d="M77 286h3v2h-3zM77 319h3v2h-3zM83 314h3v3h-3zM83 323h3v1h-3zM89 283h3v1h-3zM89 294h3v1h-3zM89 296h3v1h-3zM89 299h3v1h-3zM89 319h3v2h-3zM89 322h3v2h-3zM95 282h3v1h-3zM95 284h3v1h-3zM95 293h3v1h-3zM95 296h3v4h-3zM102 295h3v1h-3zM102 315h3v1h-3zM102 317h3v1h-3zM108 294h3v3h-3zM108 299h3v1h-3zM114 285h3v1h-3zM114 317h3v2h-3zM120 282h3v1h-3zM120 287h3v1h-3zM120 310h3v1h-3zM126 285h3v1h-3zM126 296h3v1h-3zM126 320h3v1h-3zM132 285h3v1h-3zM132 292h3v1h-3zM132 299h3v1h-3zM132 314h3v2h-3zM138 286h3v2h-3zM138 298h3v2h-3zM138 316h3v1h-3zM151 296h3v2h-3zM157 309h3v1h-3zM157 314h3v2h-3zM169 299h3v1h-3zM169 310h3v4h-3zM169 317h3v2h-3zM175 297h3v3h-3zM175 306h3v4h-3zM181 283h3v1h-3zM181 285h3v2h-3zM181 296h3v1h-3zM181 298h3v2h-3zM188 282h3v1h-3zM188 285h3v1h-3zM188 294h3v2h-3zM188 299h3v1h-3zM188 301h3v1h-3zM206 263h3v1h-3zM206 282h3v1h-3zM212 268h3v2h-3zM218 248h3v3h-3zM298 193h3v1h-3zM298 197h3v6h-3zM298 207h3v2h-3zM304 181h3v3h-3zM304 190h3v4h-3zM304 196h3v1h-3zM311 191h3v5h-3zM311 197h3v9h-3zM311 210h3v2h-3zM317 190h3v3h-3zM317 196h3v2h-3zM317 200h3v1h-3zM317 209h3v1h-3zM323 175h3v3h-3zM329 166h3v6h-3zM329 176h3v2h-3zM329 191h3v2h-3zM335 166h3v7h-3zM335 176h3v2h-3zM335 179h3v2h-3zM335 194h3v3h-3zM335 204h3v2h-3zM335 212h3v1h-3zM335 215h3v6h-3zM341 154h3v3h-3zM341 164h3v3h-3zM341 191h3v2h-3zM347 158h3v6h-3zM347 166h3v7h-3zM347 175h3v6h-3zM347 191h3v3h-3zM354 157h3v3h-3zM354 161h3v2h-3zM354 172h3v3h-3zM354 178h3v1h-3zM354 190h3v3h-3zM354 197h3v4h-3zM354 210h3v2h-3zM354 213h3v1h-3zM360 160h3v1h-3zM360 163h3v3h-3zM360 169h3v1h-3zM360 172h3v1h-3zM360 178h3v1h-3zM360 192h3v2h-3zM360 201h3v2h-3zM360 206h3v1h-3zM366 149h3v5h-3zM366 157h3v1h-3zM366 160h3v3h-3zM366 164h3v2h-3zM366 167h3v2h-3zM366 170h3v2h-3zM366 173h3v3h-3zM366 191h3v2h-3zM372 155h3v3h-3zM372 163h3v4h-3zM372 170h3v2h-3zM372 190h3v1h-3zM372 209h3v1h-3zM378 152h3v2h-3zM378 155h3v3h-3zM378 160h3v1h-3zM378 163h3v1h-3zM378 166h3v12h-3zM378 181h3v1h-3zM378 203h3v3h-3zM378 209h3v3h-3zM378 215h3v1h-3zM384 158h3v5h-3zM384 164h3v6h-3zM384 172h3v3h-3zM384 178h3v1h-3zM384 191h3v3h-3zM384 225h3v2h-3zM390 163h3v1h-3zM390 166h3v3h-3zM390 170h3v3h-3zM390 176h3v3h-3zM390 181h3v1h-3zM390 185h3v2h-3zM397 176h3v2h-3zM397 195h3v6h-3zM397 209h3v1h-3zM397 219h3v2h-3zM403 175h3v1h-3zM403 178h3v1h-3zM403 193h3v1h-3zM403 210h3v2h-3zM403 224h3v1h-3zM409 167h3v5h-3zM409 173h3v2h-3zM409 176h3v5h-3zM409 191h3v2h-3zM409 198h3v3h-3zM409 207h3v2h-3zM415 161h3v2h-3zM415 173h3v9h-3zM415 190h3v4h-3zM415 197h3v1h-3zM415 201h3v2h-3zM421 164h3v2h-3zM421 169h3v7h-3zM421 178h3v4h-3zM421 191h3v2h-3zM421 198h3v3h-3zM421 203h3v3h-3zM421 209h3v1h-3zM421 220h3v7h-3zM427 169h3v4h-3zM427 179h3v3h-3zM427 198h3v2h-3zM427 210h3v2h-3zM433 178h3v4h-3zM433 191h3v2h-3zM433 195h3v3h-3zM433 201h3v2h-3zM433 209h3v1h-3zM433 219h3v2h-3zM440 172h3v3h-3zM440 176h3v2h-3zM440 179h3v3h-3zM440 191h3v2h-3zM440 198h3v2h-3zM440 201h3v2h-3zM440 204h3v2h-3zM440 209h3v3h-3zM440 242h3v1h-3zM446 160h3v3h-3zM446 167h3v9h-3zM446 178h3v3h-3zM446 191h3v3h-3zM446 198h3v2h-3zM446 216h3v2h-3zM452 160h3v1h-3zM452 170h3v2h-3zM452 173h3v2h-3zM452 178h3v1h-3zM452 190h3v4h-3zM452 197h3v6h-3zM452 207h3v3h-3zM458 175h3v3h-3zM458 181h3v1h-3zM458 191h3v2h-3zM458 200h3v6h-3zM458 207h3v2h-3zM458 219h3v2h-3zM458 225h3v2h-3zM464 166h3v1h-3zM464 169h3v3h-3zM464 173h3v2h-3zM464 178h3v1h-3zM464 181h3v1h-3zM464 193h3v1h-3zM464 197h3v4h-3zM464 206h3v1h-3zM464 212h3v1h-3zM464 216h3v2h-3zM464 225h3v2h-3zM470 93h3v3h-3zM470 158h3v2h-3zM470 173h3v8h-3zM470 190h3v4h-3zM470 195h3v3h-3zM470 200h3v3h-3zM470 206h3v1h-3zM470 219h3v2h-3zM470 242h3v1h-3zM476 152h3v2h-3zM476 155h3v6h-3zM476 170h3v5h-3zM476 181h3v1h-3zM476 190h3v3h-3zM476 200h3v3h-3zM476 204h3v2h-3zM476 209h3v3h-3zM476 220h3v7h-3zM476 234h3v3h-3zM476 239h3v3h-3zM483 149h3v5h-3zM483 157h3v1h-3zM483 170h3v11h-3zM483 200h3v3h-3zM483 204h3v2h-3zM483 209h3v3h-3zM483 216h3v2h-3zM483 225h3v2h-3zM489 149h3v5h-3zM489 155h3v8h-3zM489 170h3v3h-3zM489 178h3v4h-3zM489 188h3v4h-3zM489 197h3v1h-3zM489 201h3v2h-3zM489 207h3v5h-3zM489 218h3v6h-3zM495 137h3v3h-3zM495 146h3v5h-3zM495 155h3v3h-3zM495 160h3v1h-3zM495 170h3v3h-3zM495 175h3v1h-3zM495 179h3v3h-3zM495 191h3v3h-3zM495 198h3v3h-3zM495 204h3v3h-3zM495 212h3v3h-3zM495 218h3v1h-3zM495 221h3v4h-3zM501 145h3v1h-3zM501 148h3v4h-3zM501 154h3v6h-3zM501 173h3v9h-3zM501 191h3v3h-3zM501 197h3v4h-3zM501 203h3v3h-3zM501 207h3v8h-3zM501 216h3v2h-3zM501 219h3v6h-3zM501 231h3v2h-3zM501 243h3v2h-3zM507 148h3v7h-3zM507 157h3v1h-3zM507 159h3v1h-3zM507 175h3v3h-3zM507 190h3v4h-3zM507 198h3v3h-3zM507 204h3v2h-3zM507 222h3v3h-3zM507 242h3v4h-3zM507 247h3v1h-3zM507 298h3v2h-3zM513 157h3v3h-3zM513 175h3v3h-3zM513 179h3v3h-3zM513 191h3v2h-3zM513 194h3v4h-3zM513 207h3v2h-3zM513 221h3v6h-3zM513 243h3v2h-3zM513 295h3v2h-3zM513 301h3v2h-3zM520 176h3v3h-3zM520 180h3v1h-3zM520 189h3v2h-3zM520 193h3v1h-3zM520 201h3v2h-3zM520 205h3v1h-3zM520 217h3v2h-3zM520 220h3v1h-3zM520 238h3v3h-3zM520 246h3v1h-3zM520 267h3v1h-3zM520 285h3v3h-3zM520 289h3v2h-3zM520 295h3v1h-3zM520 298h3v1h-3zM520 304h3v3h-3zM526 176h3v3h-3zM526 180h3v1h-3zM526 191h3v3h-3zM526 197h3v1h-3zM526 203h3v1h-3zM526 206h3v2h-3zM526 217h3v3h-3zM526 224h3v1h-3zM526 242h3v3h-3zM526 295h3v2h-3zM526 298h3v1h-3zM532 176h3v4h-3zM532 189h3v2h-3zM532 197h3v2h-3zM532 200h3v2h-3zM532 207h3v1h-3zM538 180h3v1h-3zM538 188h3v5h-3zM538 198h3v1h-3zM538 202h3v1h-3zM538 205h3v1h-3zM538 207h3v3h-3zM538 221h3v3h-3zM538 238h3v2h-3zM538 241h3v3h-3zM538 246h3v2h-3zM538 267h3v2h-3zM538 285h3v2h-3zM538 298h3v1h-3zM538 300h3v2h-3zM544 179h3v3h-3zM544 190h3v3h-3zM544 197h3v1h-3zM544 202h3v1h-3zM544 205h3v1h-3zM544 218h3v3h-3zM544 224h3v2h-3zM544 243h3v3h-3zM544 294h3v4h-3zM544 299h3v1h-3zM550 188h3v3h-3zM550 196h3v3h-3zM550 201h3v1h-3zM550 203h3v1h-3zM550 207h3v1h-3zM550 213h3v2h-3zM550 218h3v8h-3zM550 242h3v3h-3zM550 266h3v3h-3zM550 296h3v2h-3zM550 307h3v1h-3zM556 217h3v1h-3zM556 219h3v1h-3zM556 223h3v2h-3zM556 240h3v1h-3zM556 243h3v3h-3zM556 286h3v1h-3zM556 296h3v1h-3zM556 298h3v1h-3zM563 218h3v3h-3zM563 225h3v1h-3zM563 243h3v2h-3zM563 284h3v3h-3zM563 293h3v2h-3zM569 267h3v2h-3zM569 285h3v2h-3zM569 290h3v4h-3zM569 296h3v1h-3zM569 299h3v1h-3zM575 241h3v3h-3zM575 245h3v1h-3zM575 284h3v3h-3zM575 295h3v2h-3zM581 253h3v3h-3zM581 267h3v2h-3zM581 285h3v2h-3zM581 297h3v1h-3zM587 284h3v1h-3zM587 286h3v1h-3zM587 295h3v2h-3zM587 298h3v2h-3zM593 266h3v2h-3zM593 285h3v1h-3zM593 287h3v1h-3zM593 297h3v2h-3zM593 309h3v1h-3zM593 314h3v3h-3zM599 264h3v3h-3zM599 296h3v4h-3zM599 318h3v1h-3zM606 293h3v1h-3zM606 295h3v2h-3zM612 286h3v1h-3zM612 295h3v2h-3zM612 304h3v3h-3zM618 292h3v3h-3zM624 284h3v4h-3zM624 290h3v2h-3zM624 295h3v6h-3zM624 311h3v3h-3zM624 315h3v1h-3zM624 317h3v1h-3zM630 295h3v1h-3zM630 304h3v3h-3zM636 286h3v2h-3zM636 290h3v3h-3zM636 296h3v3h-3zM642 286h3v2h-3zM642 289h3v1h-3zM642 294h3v1h-3zM642 296h3v1h-3zM642 298h3v2h-3zM642 314h3v1h-3zM649 295h3v1h-3zM649 298h3v1h-3zM655 268h3v1h-3zM655 295h3v1h-3zM655 298h3v1h-3zM661 266h3v1h-3zM661 282h3v1h-3zM661 295h3v4h-3z"/>
</g>
<g shape-rendering="crispEdges" fill="#000">
<rect x="78" y="57" width="591" height="1"/><rect x="78" y="335" width="591" height="1"/><rect x="78" y="57" width="1" height="279"/><rect x="668" y="57" width="1" height="279"/>
<rect x="78" y="336" width="1" height="4"/><rect x="78" y="53" width="1" height="4"/><rect x="103" y="336" width="1" height="2"/><rect x="103" y="55" width="1" height="2"/><rect x="127" y="336" width="1" height="4"/><rect x="127" y="53" width="1" height="4"/><rect x="152" y="336" width="1" height="2"/><rect x="152" y="55" width="1" height="2"/><rect x="176" y="336" width="1" height="4"/><rect x="176" y="53" width="1" height="4"/><rect x="201" y="336" width="1" height="2"/><rect x="201" y="55" width="1" height="2"/><rect x="226" y="336" width="1" height="4"/><rect x="226" y="53" width="1" height="4"/><rect x="250" y="336" width="1" height="2"/><rect x="250" y="55" width="1" height="2"/><rect x="275" y="336" width="1" height="4"/><rect x="275" y="53" width="1" height="4"/><rect x="299" y="336" width="1" height="2"/><rect x="299" y="55" width="1" height="2"/><rect x="324" y="336" width="1" height="4"/><rect x="324" y="53" width="1" height="4"/><rect x="348" y="336" width="1" height="2"/><rect x="348" y="55" width="1" height="2"/><rect x="373" y="336" width="1" height="4"/><rect x="373" y="53" width="1" height="4"/><rect x="398" y="336" width="1" height="2"/><rect x="398" y="55" width="1" height="2"/><rect x="422" y="336" width="1" height="4"/><rect x="422" y="53" width="1" height="4"/><rect x="447" y="336" width="1" height="2"/><rect x="447" y="55" width="1" height="2"/><rect x="471" y="336" width="1" height="4"/><rect x="471" y="53" width="1" height="4"/><rect x="496" y="336" width="1" height="2"/><rect x="496" y="55" width="1" height="2"/><rect x="521" y="336" width="1" height="4"/><rect x="521" y="53" width="1" height="4"/><rect x="545" y="336" width="1" height="2"/><rect x="545" y="55" width="1" height="2"/><rect x="570" y="336" width="1" height="4"/><rect x="570" y="53" width="1" height="4"/><rect x="594" y="336" width="1" height="2"/><rect x="594" y="55" width="1" height="2"/><rect x="619" y="336" width="1" height="4"/><rect x="619" y="53" width="1" height="4"/><rect x="643" y="336" width="1" height="2"/><rect x="643" y="55" width="1" height="2"/><rect x="668" y="336" width="1" height="4"/><rect x="668" y="53" width="1" height="4"/><rect x="74" y="335" width="4" height="1"/><rect x="669" y="335" width="4" height="1"/><rect x="74" y="315" width="4" height="1"/><rect x="669" y="315" width="4" height="1"/><rect x="74" y="295" width="4" height="1"/><rect x="669" y="295" width="4" height="1"/><rect x="74" y="275" width="4" height="1"/><rect x="669" y="275" width="4" height="1"/><rect x="74" y="256" width="4" height="1"/><rect x="669" y="256" width="4" height="1"/><rect x="74" y="236" width="4" height="1"/><rect x="669" y="236" width="4" height="1"/><rect x="74" y="216" width="4" height="1"/><rect x="669" y="216" width="4" height="1"/><rect x="74" y="196" width="4" height="1"/><rect x="669" y="196" width="4" height="1"/><rect x="74" y="176" width="4" height="1"/><rect x="669" y="176" width="4" height="1"/><rect x="74" y="156" width="4" height="1"/><rect x="669" y="156" width="4" height="1"/><rect x="74" y="136" width="4" height="1"/><rect x="669" y="136" width="4" height="1"/><rect x="74" y="117" width="4" height="1"/><rect x="669" y="117" width="4" height="1"/><rect x="74" y="97" width="4" height="1"/><rect x="669" y="97" width="4" height="1"/><rect x="74" y="77" width="4" height="1"/><rect x="669" y="77" width="4" height="1"/><rect x="74" y="57" width="4" height="1"/><rect x="669" y="57" width="4" height="1"/>
</g>
<g shape-rendering="crispEdges">
<rect x="687" y="280" width="30" height="56" fill="#8000ff"/><rect x="687" y="224" width="30" height="56" fill="#00b4ec"/><rect x="687" y="169" width="30" height="55" fill="#80ffb4"/><rect x="687" y="113" width="30" height="56" fill="#ffb462"/><rect x="687" y="57" width="30" height="56" fill="#ff0000"/><rect x="687.5" y="57.5" width="29" height="278" fill="none" stroke="#000" stroke-width="1"/>
</g>
<g opacity="0.999">
<text x="370.5" y="33" text-anchor="middle">2025-04-08</text>
<text class="t" x="75.6" y="363" text-anchor="middle">00</text><text class="t" x="124.8" y="363" text-anchor="middle">02</text><text class="t" x="173.9" y="363" text-anchor="middle">04</text><text class="t" x="223.1" y="363" text-anchor="middle">06</text><text class="t" x="272.3" y="363" text-anchor="middle">08</text><text class="t" x="321.4" y="363" text-anchor="middle">10</text><text class="t" x="370.6" y="363" text-anchor="middle">12</text><text class="t" x="419.8" y="363" text-anchor="middle">14</text><text class="t" x="468.9" y="363" text-anchor="middle">16</text><text class="t" x="518.1" y="363" text-anchor="middle">18</text><text class="t" x="567.3" y="363" text-anchor="middle">20</text><text class="t" x="616.4" y="363" text-anchor="middle">22</text><text class="t" x="665.6" y="363" text-anchor="middle">00</text>
<text class="t" x="59.2" y="339.7" text-anchor="end">1</text><text class="t" x="59.2" y="319.8" text-anchor="end">2</text><text class="t" x="59.2" y="300.0" text-anchor="end">3</text><text class="t" x="59.2" y="280.1" text-anchor="end">4</text><text class="t" x="59.2" y="260.3" text-anchor="end">5</text><text class="t" x="59.2" y="240.4" text-anchor="end">6</text><text class="t" x="59.2" y="220.6" text-anchor="end">7</text><text class="t" x="59.2" y="200.7" text-anchor="end">8</text><text class="t" x="59.2" y="180.8" text-anchor="end">9</text><text class="t" x="59.2" y="161.0" text-anchor="end">10</text><text class="t" x="59.2" y="141.1" text-anchor="end">11</text><text class="t" x="59.2" y="121.3" text-anchor="end">12</text><text class="t" x="59.2" y="101.4" text-anchor="end">13</text><text class="t" x="59.2" y="81.6" text-anchor="end">14</text><text class="t" x="59.2" y="61.7" text-anchor="end">15</text>
<text class="c" x="730.4" y="339.0">6</text><text class="c" x="730.4" y="283.4">9</text><text class="c" x="730.4" y="227.8">12</text><text class="c" x="730.4" y="172.2">15</text><text class="c" x="730.4" y="116.6">18</text><text class="c" x="730.4" y="61.0">21</text>
<text x="372" y="390.4" text-anchor="middle">UT Time / hrs</text>
<text class="r" transform="translate(19,197) rotate(-90)" text-anchor="middle">Frequency / MHz</text>
<text class="r2" transform="translate(764.5,196.2) rotate(-90)" text-anchor="middle">Signal to Noise Ratio SNR / dB</text>
</g>
</svg>
</body></html>
